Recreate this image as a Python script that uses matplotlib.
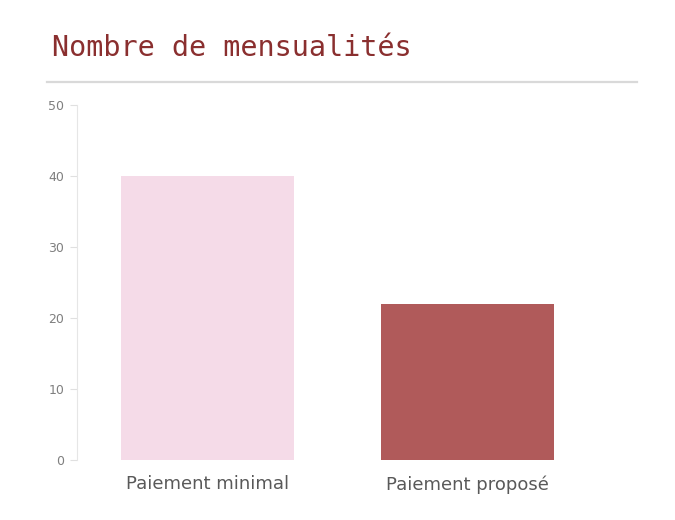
import matplotlib.pyplot as plt

categories = ['Paiement minimal', 'Paiement proposé']
mensualites = [40, 22]
bar_colors = ['#f5dbe8', '#b05a5a']
yticks = [0, 10, 20, 30, 40, 50]

fig = plt.figure(figsize=(6.75, 5.2), dpi=100)
ax = fig.add_axes([0.114, 0.115, 0.772, 0.683])

ax.bar(range(len(categories)), mensualites, width=0.665, color=bar_colors)
ax.set_xlim(-0.5, 1.5)
ax.set_ylim(0, 50)
ax.set_yticks(yticks)
ax.set_xticks(range(len(categories)))
ax.set_xticklabels(categories, fontsize=13, color='#595959', family='DejaVu Sans')

for s in ['top', 'right', 'bottom']:
    ax.spines[s].set_visible(False)
ax.spines['left'].set_color('#e6e6e6')
ax.tick_params(axis='y', colors='#e0e0e0', labelcolor='#7f7f7f', labelsize=9, length=5, pad=4)
ax.tick_params(axis='x', length=0, pad=11)
for lbl in ax.get_yticklabels():
    lbl.set_family('DejaVu Sans')

# titre + ligne
fig.text(0.077, 0.908, 'Nombre de mensualités', fontsize=20.5, family='DejaVu Sans Mono',
         color='#8a2f2f', va='center', ha='left')
fig.add_artist(plt.Line2D([0.07, 0.944], [0.842, 0.842], color='#d9d9d9', lw=1.6))

fig.savefig('out.png', dpi=100)
